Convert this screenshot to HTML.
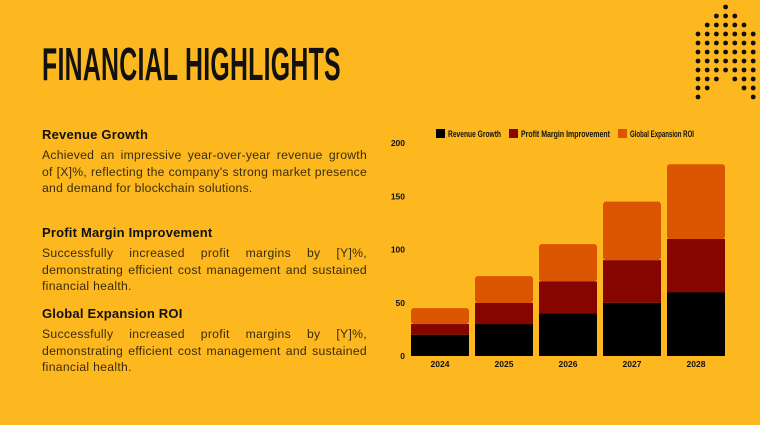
<!DOCTYPE html>
<html><head><meta charset="utf-8">
<style>
body{margin:0;width:760px;height:425px;background:#FDB81F;overflow:hidden;position:relative;font-family:"Liberation Sans",sans-serif}
.title{position:absolute;left:42px;top:37px;font-size:46px;font-weight:bold;color:#111;transform:scaleX(0.54);transform-origin:left top;white-space:nowrap;letter-spacing:0.5px}
.h{position:absolute;left:42px;font-size:13px;font-weight:bold;color:#111;letter-spacing:0.2px}
.p{position:absolute;left:42px;width:325px;font-size:12.2px;line-height:16.5px;color:#3a2c08;text-align:justify;letter-spacing:0.3px}
</style></head><body>
<div class="title">FINANCIAL HIGHLIGHTS</div>
<div class="h" style="top:127px">Revenue Growth</div>
<div class="p" style="top:147px;letter-spacing:0.26px">Achieved an impressive year-over-year revenue growth of [X]%, reflecting the company's strong market presence and demand for blockchain solutions.</div>
<div class="h" style="top:225px">Profit Margin Improvement</div>
<div class="p" style="top:245px">Successfully increased profit margins by [Y]%, demonstrating efficient cost management and sustained financial health.</div>
<div class="h" style="top:306px">Global Expansion ROI</div>
<div class="p" style="top:326px">Successfully increased profit margins by [Y]%, demonstrating efficient cost management and sustained financial health.</div>
<svg id="dots" width="760" height="425" style="position:absolute;left:0;top:0"></svg>
<svg id="chart" width="760" height="425" style="position:absolute;left:0;top:0"></svg>
<script>
const categories=["2024","2025","2026","2027","2028"];
const revenue=[20,30,40,50,60];
const profit=[10,20,30,40,50];
const globalRoi=[15,25,35,55,70];
const yTicks=[0,50,100,150,200];
const seriesNames=["Revenue Growth","Profit Margin Improvement","Global Expansion ROI"];
const colors=["#000000","#870500","#DB5400"];
const NS="http://www.w3.org/2000/svg";
const svg=document.getElementById("chart");
function y(v){return 356-v*(213/200);}
function x(i){return 411+i*64;}
const bw=58;
function mk(tag,attrs,parent){const e=document.createElementNS(NS,tag);for(const k in attrs)e.setAttribute(k,attrs[k]);(parent||svg).appendChild(e);return e;}
yTicks.forEach(t=>{const e=mk("text",{x:405,y:y(t)+3,"text-anchor":"end","font-size":"8.5","font-weight":"bold",fill:"#111","font-family":"Liberation Sans Narrow, Liberation Sans, sans-serif"});e.textContent=t;

});
const series=[revenue,profit,globalRoi];
categories.forEach((c,i)=>{let base=0;
series.forEach((s,k)=>{const r=mk("rect",{x:x(i),y:y(base+s[i]),width:bw,height:y(base)-y(base+s[i]),fill:colors[k],rx:k==2?3:0});


base+=s[i];});
const t=mk("text",{x:x(i)+bw/2,y:367,"text-anchor":"middle","font-size":"8.5","font-weight":"bold",fill:"#111","font-family":"Liberation Sans Narrow, Liberation Sans, sans-serif"});t.textContent=c;

});
let lx=436;
const lw=[53,89,64];
seriesNames.forEach((n,k)=>{const r=mk("rect",{x:lx,y:129,width:9,height:9,fill:colors[k]});


const t=mk("text",{x:lx+12,y:137,"font-size":"9","font-weight":"bold",fill:"#111","font-family":"Liberation Sans Narrow, Liberation Sans, sans-serif",textLength:lw[k],lengthAdjust:"spacingAndGlyphs"});t.textContent=n;


lx+=12+lw[k]+8;});
const ds=document.getElementById("dots");
const rows=[[3],[2,3,4],[1,2,3,4,5],[0,1,2,3,4,5,6],[0,1,2,3,4,5,6],[0,1,2,3,4,5,6],[0,1,2,3,4,5,6],[0,1,2,3,4,5,6],[0,1,2,4,5,6],[0,1,5,6],[0,6]];
rows.forEach((r,ri)=>r.forEach(ci=>{mk("circle",{cx:698+ci*9.2,cy:7+ri*9,r:2.4,fill:"#111"},ds);}));
</script>
</body></html>
